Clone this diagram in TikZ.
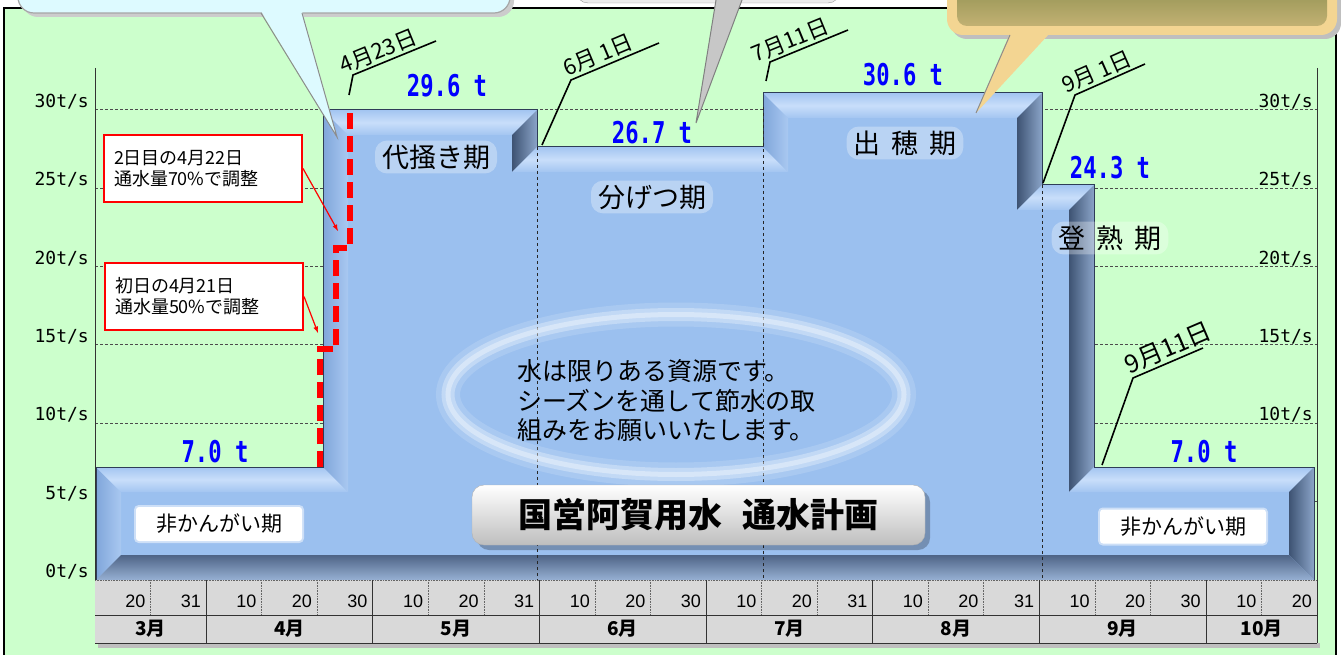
\documentclass[tikz,border=0pt]{standalone}
\usepackage{fontspec}
\setmainfont{Noto Sans CJK JP}
\newfontfamily\valfont[FakeStretch=0.74]{DejaVu Sans Mono}
\newfontfamily\axisfont{DejaVu Sans Mono}
\newfontfamily\dayfont{Liberation Sans}

\definecolor{bggreen}{HTML}{CCFFCC}
\definecolor{plotblue}{HTML}{9BC0EF}
\definecolor{valblue}{HTML}{0000FF}
\definecolor{tablegray}{HTML}{D9D9D9}
\definecolor{outlineblue}{HTML}{2E3D57}
\definecolor{topA}{HTML}{A3C5F1}
\definecolor{topB}{HTML}{C8DEFA}
\definecolor{leftA}{HTML}{80A6DA}
\definecolor{leftB}{HTML}{A9C8F1}
\definecolor{rightA}{HTML}{3E5373}
\definecolor{rightB}{HTML}{8AA4C8}
\definecolor{bottomA}{HTML}{4E6486}
\definecolor{bottomB}{HTML}{97B0D3}
\definecolor{calloutcyan}{HTML}{DDFAFF}
\definecolor{callouttan}{HTML}{F3D592}
\definecolor{grassA}{HTML}{76803F}
\definecolor{grassB}{HTML}{C2B173}
\definecolor{titlegray}{HTML}{BEBEBE}

\tikzset{
  gridline/.style={densely dashed, line width=0.6pt, black!70},
  axisline/.style={line width=0.8pt, black!80},
  axislbl/.style={anchor=east, inner sep=0pt, font=\axisfont\fontsize{18pt}{18pt}\selectfont},
  topface/.style={top color=topA, bottom color=topA, middle color=topB},
  leftface/.style={left color=leftA, right color=leftB},
  rightface/.style={left color=rightA, right color=rightB},
  bottomface/.style={top color=bottomA, bottom color=bottomB},
  shapeline/.style={draw=outlineblue, line width=1pt},
  perioddash/.style={dashed, line width=0.7pt, black!85},
  flowval/.style={text=valblue, inner sep=0pt, font=\valfont\bfseries\fontsize{30pt}{30pt}\selectfont},
  stagelbl/.style={fill=white, fill opacity=.3, text opacity=1, rounded corners=12pt,
    inner xsep=7pt, inner ysep=4pt, font=\fontsize{27pt}{30pt}\selectfont,
    execute at begin node={\spaceskip=0.4em\relax}},
  offlbl/.style={fill=white, draw=white, draw opacity=.5, line width=4pt, rounded corners=3pt,
    minimum width=166pt, minimum height=34pt, font=\fontsize{21pt}{24pt}\selectfont},
  leader/.style={line width=1.6pt, black},
  datelbl/.style={sloped, above, inner sep=2pt, font=\fontsize{22pt}{22pt}\selectfont},
  reddash/.style={red, line width=5.5pt, dash pattern=on 16pt off 7pt},
  redbox/.style={draw=red, line width=2pt, fill=white, align=left, text width=178pt,
    inner xsep=10pt, minimum height=67pt, font=\fontsize{18pt}{21pt}\selectfont},
  redarrow/.style={red, line width=1.2pt, -latex},
  msgtext/.style={align=left, inner sep=0pt, font=\fontsize{25pt}{29.5pt}\selectfont},
  titlebox/.style={rounded corners=12pt, minimum width=453pt, minimum height=60pt,
    top color=white, middle color=white, bottom color=titlegray, draw=black!30,
    font=\bfseries\fontsize{34pt}{34pt}\selectfont,
    execute at begin node={\spaceskip=0.6em\relax}},
  tableline/.style={line width=0.8pt, black!80},
  subdiv/.style={densely dotted, line width=0.6pt, black!60},
  daynum/.style={anchor=east, inner sep=0pt, font=\dayfont\fontsize{18pt}{18pt}\selectfont},
  monthlbl/.style={inner sep=0pt, font=\bfseries\fontsize{19pt}{19pt}\selectfont}
}

\begin{document}
\begin{tikzpicture}[x=1pt,y=-1pt]
  \useasboundingbox (0,0) rectangle (1341,655);
  \clip (0,0) rectangle (1341,655);

  % frame
  \draw[fill=bggreen, line width=1.2pt] (4,8) rectangle (1336,670);

  % grid and axes
  \draw[gridline] (95,501.4) -- (1317,501.4);
  \draw[gridline] (95,423) -- (1317,423);
  \draw[gridline] (95,344.7) -- (1317,344.7);
  \draw[gridline] (95,266.3) -- (1317,266.3);
  \draw[gridline] (95,188) -- (1317,188);
  \draw[gridline] (95,109.6) -- (1317,109.6);
  \draw[axisline] (95,68) -- (95,643);
  \draw[axisline] (1317,68) -- (1317,643);
  \draw
    (89,571.7) node[axislbl] (yl0){0t/s}
    (89,493.4) node[axislbl] (yl5){5t/s}
    (89,415) node[axislbl] (yl10){10t/s}
    (89,336.7) node[axislbl] (yl15){15t/s}
    (89,258.3) node[axislbl] (yl20){20t/s}
    (89,180) node[axislbl] (yl25){25t/s}
    (89,101.6) node[axislbl] (yl30){30t/s}
    (1313,415) node[axislbl] (yr10){10t/s}
    (1313,336.7) node[axislbl] (yr15){15t/s}
    (1313,258.3) node[axislbl] (yr20){20t/s}
    (1313,180) node[axislbl] (yr25){25t/s}
    (1313,101.6) node[axislbl] (yr30){30t/s};

  % flow plan
  \coordinate (o1) at (96,580);
  \coordinate (o2) at (96,467);
  \coordinate (o3) at (323,467);
  \coordinate (o4) at (323,110);
  \coordinate (o5) at (537,110);
  \coordinate (o6) at (537,147);
  \coordinate (o7) at (763,147);
  \coordinate (o8) at (763,93);
  \coordinate (o9) at (1042,93);
  \coordinate (o10) at (1042,185);
  \coordinate (o11) at (1094,185);
  \coordinate (o12) at (1094,467);
  \coordinate (o13) at (1314,467);
  \coordinate (o14) at (1314,580);
  \coordinate (i1) at (121,555);
  \coordinate (i2) at (121,492);
  \coordinate (i3) at (348,492);
  \coordinate (i4) at (348,135);
  \coordinate (i5) at (512,135);
  \coordinate (i6) at (512,172);
  \coordinate (i7) at (788,172);
  \coordinate (i8) at (788,118);
  \coordinate (i9) at (1017,118);
  \coordinate (i10) at (1017,210);
  \coordinate (i11) at (1069,210);
  \coordinate (i12) at (1069,492);
  \coordinate (i13) at (1289,492);
  \coordinate (i14) at (1289,555);
  \fill[plotblue] (o1) -- (o2) -- (o3) -- (o4) -- (o5) -- (o6) -- (o7) -- (o8) -- (o9)
    -- (o10) -- (o11) -- (o12) -- (o13) -- (o14) -- cycle;
  \shade[leftface] (o1) -- (o2) -- (i2) -- (i1) -- cycle;
  \shade[topface] (o2) -- (o3) -- (i3) -- (i2) -- cycle;
  \shade[leftface] (o3) -- (o4) -- (i4) -- (i3) -- cycle;
  \shade[topface] (o4) -- (o5) -- (i5) -- (i4) -- cycle;
  \shade[rightface] (o5) -- (o6) -- (i6) -- (i5) -- cycle;
  \shade[topface] (o6) -- (o7) -- (i7) -- (i6) -- cycle;
  \shade[leftface] (o7) -- (o8) -- (i8) -- (i7) -- cycle;
  \shade[topface] (o8) -- (o9) -- (i9) -- (i8) -- cycle;
  \shade[rightface] (o9) -- (o10) -- (i10) -- (i9) -- cycle;
  \shade[topface] (o10) -- (o11) -- (i11) -- (i10) -- cycle;
  \shade[rightface] (o11) -- (o12) -- (i12) -- (i11) -- cycle;
  \shade[topface] (o12) -- (o13) -- (i13) -- (i12) -- cycle;
  \shade[rightface] (o13) -- (o14) -- (i14) -- (i13) -- cycle;
  \shade[bottomface] (o14) -- (o1) -- (i1) -- (i14) -- cycle;
  \draw[shapeline] (o1) -- (o2) -- (o3) -- (o4) -- (o5) -- (o6) -- (o7) -- (o8) -- (o9)
    -- (o10) -- (o11) -- (o12) -- (o13) -- (o14) -- cycle;
  \draw[perioddash] (o6) -- (o6 |- o1);
  \draw[perioddash] (763,107) -- (o7 |- o1);
  \draw[perioddash] (o10) -- (o10 |- o1);

  % message ring
  \draw[white, opacity=.15, line width=24pt] (676,394.5) ellipse [x radius=228, y radius=80];
  \draw[white, opacity=.3, line width=13pt] (676,394.5) ellipse [x radius=228, y radius=80];
  \draw[white, opacity=.35, line width=5pt] (676,394.5) ellipse [x radius=228, y radius=80];
  \node[msgtext, anchor=west] (msg) at (517,401)
    {水は限りある資源です。\\シーズンを通して節水の取\\組みをお願いいたします。};

  % title
  \fill[black, opacity=.25, rounded corners=12pt] (477,490) rectangle (930,550);
  \node[titlebox] (title) at (698.5,515) {国営阿賀用水 通水計画};

  % stages
  \node[stagelbl] (daikaki) at (436,157) {代掻き期};
  \node[stagelbl] (bunketsu) at (652,197) {分げつ期};
  \node[stagelbl] (shussui) at (905,143) {出 穂 期};
  \node[stagelbl] (tojuku) at (1110,238) {登 熟 期};
  \node[offlbl] (offA) at (219,524) {非かんがい期};
  \node[offlbl] (offB) at (1183,526.5) {非かんがい期};

  % flow values
  \node[flowval] (v296) at (447,86) {29.6 t};
  \node[flowval] (v267) at (652,133) {26.7 t};
  \node[flowval] (v306) at (903,75) {30.6 t};
  \node[flowval] (v243) at (1110,168) {24.3 t};
  \node[flowval] (v70a) at (215,452) {7.0 t};
  \node[flowval] (v70b) at (1204,452) {7.0 t};

  % date leaders
  \coordinate (a423) at (349,95);
  \coordinate (b423) at (353,75);
  \coordinate (c423) at (436,41);
  \coordinate (a601) at (542,145);
  \coordinate (b601) at (571,80);
  \coordinate (c601) at (659,43);
  \coordinate (a711) at (766,81);
  \coordinate (b711) at (770,62);
  \coordinate (c711) at (848,30);
  \coordinate (a901) at (1043,183);
  \coordinate (b901) at (1075,95);
  \coordinate (c901) at (1145,64);
  \coordinate (a911) at (1102,465);
  \coordinate (b911) at (1133,378);
  \coordinate (c911) at (1203,348);
  \draw[leader] (a423) -- (b423) -- (c423) node[datelbl, pos=.36] (t423) {4月23日};
  \draw[leader] (a601) -- (b601) -- (c601) node[datelbl, pos=.36] (t601) {6月 1日};
  \draw[leader] (a711) -- (b711) -- (c711) node[datelbl, pos=.32] (t711) {7月11日};
  \draw[leader] (a901) -- (b901) -- (c901) node[datelbl, pos=.38] (t901) {9月 1日};
  \draw[leader] (a911) -- (b911) -- (c911) node[datelbl, pos=.58, font=\fontsize{25pt}{25pt}\selectfont] (t911) {9月11日};

  % start of irrigation
  \draw[reddash] (320,467) -- (320,349) -- (336,349) -- (336,248) -- (350,248) -- (350,112);
  \node[redbox, anchor=north west] (box70) at (103,134) {2日目の4月22日\\通水量70\%で調整};
  \node[redbox, anchor=north west] (box50) at (104,262) {初日の4月21日\\通水量50\%で調整};
  \coordinate (tip70) at (338,231);
  \coordinate (tip50) at (318,333);
  \draw[redarrow] (box70.east) -- (tip70);
  \draw[redarrow] (box50.east) -- (tip50);

  % calendar
  \fill[black!25] (98,643) rectangle (1320,648);
  \fill[tablegray] (95,580) rectangle (1317,643);
  \draw[subdiv] (95,580) -- (1317,580);
  \draw[tableline] (95,615) -- (1317,615);
  \draw[tableline] (95,643) -- (1317,643);
  \begin{scope}[tableline]
    \draw (206.1,580) -- (206.1,643);
    \draw (372.7,580) -- (372.7,643);
    \draw (539.4,580) -- (539.4,643);
    \draw (706,580) -- (706,643);
    \draw (872.6,580) -- (872.6,643);
    \draw (1039.3,580) -- (1039.3,643);
    \draw (1205.9,580) -- (1205.9,643);
    \draw (1317,580) -- (1317,643);
  \end{scope}
  \begin{scope}[subdiv]
    \draw (150.5,580) -- (150.5,615);
    \draw (261.6,580) -- (261.6,615);
    \draw (317.2,580) -- (317.2,615);
    \draw (428.3,580) -- (428.3,615);
    \draw (483.8,580) -- (483.8,615);
    \draw (595,580) -- (595,615);
    \draw (650.5,580) -- (650.5,615);
    \draw (761.5,580) -- (761.5,615);
    \draw (817.1,580) -- (817.1,615);
    \draw (928.2,580) -- (928.2,615);
    \draw (983.7,580) -- (983.7,615);
    \draw (1094.8,580) -- (1094.8,615);
    \draw (1150.4,580) -- (1150.4,615);
    \draw (1261.5,580) -- (1261.5,615);
  \end{scope}
  \draw
    (145.5,601) node[daynum] (d1){20}
    (201.1,601) node[daynum] (d2){31}
    (256.6,601) node[daynum] (d3){10}
    (312.2,601) node[daynum] (d4){20}
    (367.7,601) node[daynum] (d5){30}
    (423.3,601) node[daynum] (d6){10}
    (478.8,601) node[daynum] (d7){20}
    (534.4,601) node[daynum] (d8){31}
    (590,601) node[daynum] (d9){10}
    (645.5,601) node[daynum] (d10){20}
    (701,601) node[daynum] (d11){30}
    (756.5,601) node[daynum] (d12){10}
    (812.1,601) node[daynum] (d13){20}
    (867.6,601) node[daynum] (d14){31}
    (923.2,601) node[daynum] (d15){10}
    (978.7,601) node[daynum] (d16){20}
    (1034.3,601) node[daynum] (d17){31}
    (1089.8,601) node[daynum] (d18){10}
    (1145.4,601) node[daynum] (d19){20}
    (1200.9,601) node[daynum] (d20){30}
    (1256.5,601) node[daynum] (d21){10}
    (1312,601) node[daynum] (d22){20};
  \draw
    (150.5,629) node[monthlbl] (m3){3月}
    (289.4,629) node[monthlbl] (m4){4月}
    (456,629) node[monthlbl] (m5){5月}
    (622.7,629) node[monthlbl] (m6){6月}
    (789.3,629) node[monthlbl] (m7){7月}
    (956,629) node[monthlbl] (m8){8月}
    (1122.6,629) node[monthlbl] (m9){9月}
    (1261.5,629) node[monthlbl] (m10){10月};

  % callouts cut by the top edge
  \fill[black!20, rounded corners=16pt] (22,-40) rectangle (514,17);
  \draw[fill=calloutcyan, draw=black!35, line width=1.2pt, rounded corners=16pt] (18,-40) rectangle (510,13);
  \coordinate (ctipA) at (337,137);
  \fill[calloutcyan] (261,11) -- (ctipA) -- (302,11) -- cycle;
  \draw[black!45, line width=1pt] (261,13) -- (ctipA) -- (302,13);
  \draw[fill=black!8, draw=black!40, rounded corners=12pt] (576,-40) rectangle (840,3);
  \coordinate (ctipB) at (696,123);
  \fill[black!22] (716,0) -- (ctipB) -- (742,0) -- cycle;
  \draw[black!50, line width=1pt] (716,0) -- (ctipB) -- (742,0);
  \fill[black!25, rounded corners=16pt] (951,-40) rectangle (1341,39);
  \fill[callouttan, rounded corners=16pt] (947,-40) rectangle (1337,35);
  \shade[top color=grassA, bottom color=grassB, rounded corners=10pt] (957,-40) rectangle (1327,26);
  \coordinate (ctipC) at (976,113);
  \fill[callouttan] (1010,33) -- (ctipC) -- (1050,33) -- cycle;
  \draw[black!45, line width=1pt] (1010,35) -- (ctipC);
\end{tikzpicture}
\end{document}
